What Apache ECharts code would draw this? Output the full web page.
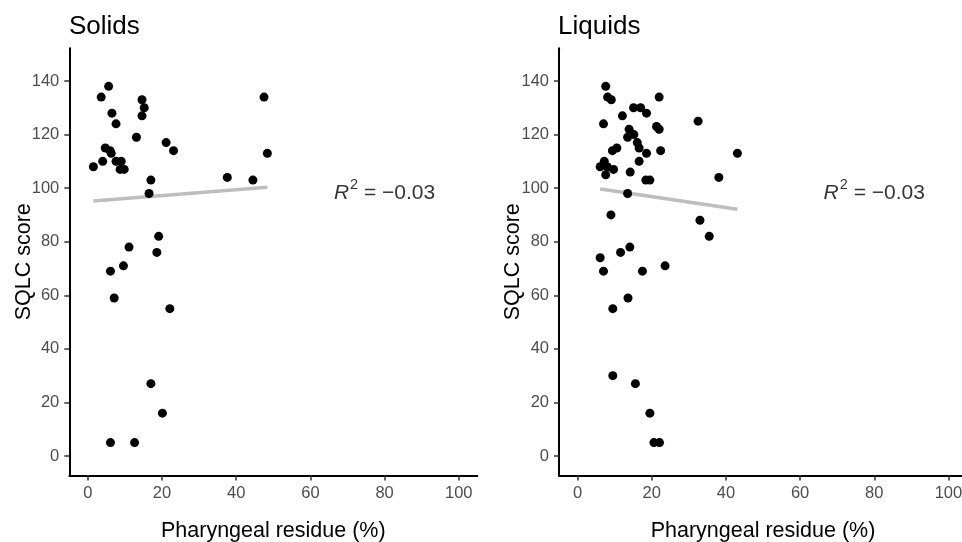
<!DOCTYPE html>
<html>
<head>
<meta charset="utf-8">
<script src="https://cdn.jsdelivr.net/npm/echarts@6/dist/echarts.min.js"></script>
<style>
  html, body { margin: 0; padding: 0; background: #ffffff; }
  #chart { width: 962px; height: 542px; }
</style>
</head>
<body>
<div id="chart"></div>
<script>
// ---- data ----
const panelTitles = ["Solids", "Liquids"];
const xTicks = [0, 20, 40, 60, 80, 100];
const yTicks = [0, 20, 40, 60, 80, 100, 120, 140];
const xAxisTitle = "Pharyngeal residue (%)";
const yAxisTitle = "SQLC score";

const solidsX = [5.6, 3.6, 47.5, 14.6, 15.2, 14.6, 6.5, 7.6, 13.1, 21.1, 23.1, 48.4,
  4.7, 6.0, 6.3, 4.0, 1.5, 7.6, 9.0, 8.7, 9.8, 17.0, 37.6, 44.5, 16.5,
  19.1, 11.1, 18.6, 9.6, 6.1, 7.1, 22.1, 17.0, 20.1, 6.1, 12.6];
const solidsY = [138, 134, 134, 133, 130, 127, 128, 124, 119, 117, 114, 113,
  115, 114, 113, 110, 108, 110, 110, 107, 107, 103, 104, 103, 98,
  82, 78, 76, 71, 69, 59, 55, 27, 16, 5, 5];

const liquidsX = [7.6, 8.1, 9.1, 22.0, 15.1, 17.0, 18.6, 12.1, 7.0, 32.5, 21.3, 22.0,
  13.9, 15.2, 13.5, 16.1, 16.6, 10.6, 9.4, 18.6, 22.4, 43.1, 16.6, 7.2,
  6.1, 8.0, 9.7, 7.6, 14.2, 18.4, 19.5, 38.1, 13.5, 9.0, 33.0, 35.5,
  14.1, 11.6, 6.1, 7.0, 17.5, 23.6, 13.6, 9.5, 9.5, 15.6, 19.5, 20.6, 22.1];
const liquidsY = [138, 134, 133, 134, 130, 130, 128, 127, 124, 125, 123, 122,
  122, 120, 119, 117, 115, 115, 114, 113, 114, 113, 110, 110,
  108, 108, 107, 105, 106, 103, 103, 104, 98, 90, 88, 82,
  78, 76, 74, 69, 69, 71, 59, 55, 30, 27, 16, 5, 5];

const fitSolidsX = [1.5, 48.4];
const fitSolidsY = [95.2, 100.3];
const fitLiquidsX = [6.1, 43.1];
const fitLiquidsY = [99.7, 92.1];

const r2Labels = ["-0.03", "-0.03"];
const r2X = [80, 80];
const r2Y = [99, 99];

// ---- helpers ----
const FONT = "Liberation Sans, Arial, Helvetica, sans-serif";
function pairs(xs, ys) { return xs.map((x, i) => [x, ys[i]]); }

const grids = [
  { left: 69.3, top: 48.2, width: 408, height: 427.2, outerBoundsMode: 'none', containLabel: false },
  { left: 559, top: 48.2, width: 408, height: 427.2, outerBoundsMode: 'none', containLabel: false }
];

function xAxisFor(i) {
  return {
    gridIndex: i, type: 'value', min: -5, max: 105,
    name: xAxisTitle, nameLocation: 'middle', nameGap: 45, nameMoveOverlap: false,
    nameTextStyle: { color: '#000', fontSize: 21.5, fontFamily: FONT },
    axisLine: { show: true, onZero: false, lineStyle: { color: '#000', width: 2 } },
    axisTick: { show: true, length: 5, customValues: xTicks, lineStyle: { color: '#333', width: 1.5 } },
    axisLabel: { customValues: xTicks, color: '#4d4d4d', fontSize: 16.5, fontFamily: FONT, margin: 10, hideOverlap: false },
    splitLine: { show: false }
  };
}
function yAxisFor(i) {
  return {
    gridIndex: i, type: 'value', min: -7.25, max: 152.25,
    name: yAxisTitle, nameLocation: 'middle', nameGap: 34.5, nameRotate: 90, nameMoveOverlap: false,
    nameTextStyle: { color: '#000', fontSize: 21.5, fontFamily: FONT },
    axisLine: { show: true, onZero: false, lineStyle: { color: '#000', width: 2 } },
    axisTick: { show: true, length: 5, customValues: yTicks, lineStyle: { color: '#333', width: 1.5 } },
    axisLabel: { customValues: yTicks, color: '#4d4d4d', fontSize: 16.5, fontFamily: FONT, margin: 10 },
    splitLine: { show: false }
  };
}

function scatterSeries(i, xs, ys) {
  return {
    type: 'scatter', xAxisIndex: i, yAxisIndex: i,
    data: pairs(xs, ys), symbolSize: 9,
    itemStyle: { color: '#000', opacity: 1 },
    z: 3
  };
}
function fitSeries(i, xs, ys) {
  return {
    type: 'line', xAxisIndex: i, yAxisIndex: i,
    data: pairs(xs, ys), showSymbol: false, symbol: 'none',
    lineStyle: { color: '#bdbdbd', width: 3.5 },
    z: 2, silent: true
  };
}
function r2Series(i) {
  return {
    type: 'scatter', xAxisIndex: i, yAxisIndex: i,
    data: [[r2X[i], r2Y[i]]], symbolSize: 2,
    itemStyle: { color: 'rgba(0,0,0,0)' },
    silent: true,
    labelLayout: { hideOverlap: false },
    label: {
      show: true, position: 'inside',
      formatter: '{r|R}{s|2}{t| = \u2212' + r2Labels[i].replace('-', '') + '}',
      rich: {
        r: { fontStyle: 'italic', fontSize: 21, fontFamily: FONT, color: '#000', verticalAlign: 'bottom' },
        s: { fontSize: 14.5, fontFamily: FONT, color: '#000', verticalAlign: 'top', padding: [0, 0, 11, 1] },
        t: { fontSize: 21, fontFamily: FONT, color: '#000', verticalAlign: 'bottom' }
      }
    },
    z: 4
  };
}

const option = {
  backgroundColor: '#ffffff',
  animation: false,
  title: [
    { text: panelTitles[0], left: 69, top: 14, padding: 0, textStyle: { fontSize: 26, fontWeight: 'normal', color: '#000', fontFamily: FONT } },
    { text: panelTitles[1], left: 558, top: 14, padding: 0, textStyle: { fontSize: 26, fontWeight: 'normal', color: '#000', fontFamily: FONT } }
  ],
  grid: grids,
  xAxis: [xAxisFor(0), xAxisFor(1)],
  yAxis: [yAxisFor(0), yAxisFor(1)],
  series: [
    fitSeries(0, fitSolidsX, fitSolidsY),
    scatterSeries(0, solidsX, solidsY),
    r2Series(0),
    fitSeries(1, fitLiquidsX, fitLiquidsY),
    scatterSeries(1, liquidsX, liquidsY),
    r2Series(1)
  ]
};

const chart = echarts.init(document.getElementById('chart'), null, { renderer: 'canvas' });
chart.setOption(option);
</script>
</body>
</html>
